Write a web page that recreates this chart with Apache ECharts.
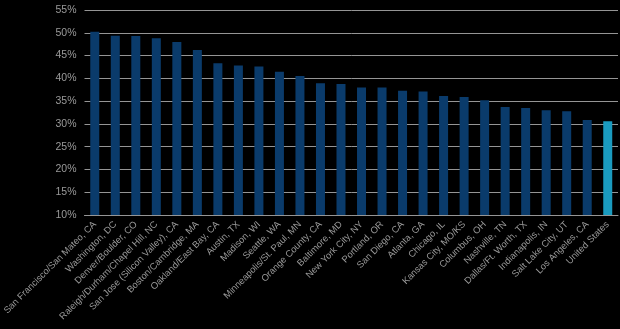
<!DOCTYPE html>
<html>
<head>
<meta charset="utf-8">
<script src="https://cdn.jsdelivr.net/npm/echarts@6/dist/echarts.min.js"></script>
<style>
  html, body { margin: 0; padding: 0; background: #000; }
  #chart { width: 620px; height: 329px; }
</style>
</head>
<body>
<div id="chart"></div>
<script>
// Metro areas, ordered by share (%)
const metros = [
  'San Francisco/San Mateo, CA', 'Washington, DC', 'Denver/Boulder, CO',
  'Raleigh/Durham/Chapel Hill, NC', 'San Jose (Silicon Valley), CA',
  'Boston/Cambridge, MA', 'Oakland/East Bay, CA', 'Austin, TX', 'Madison, WI',
  'Seattle, WA', 'Minneapolis/St. Paul, MN', 'Orange County, CA',
  'Baltimore, MD', 'New York City, NY', 'Portland, OR', 'San Diego, CA',
  'Atlanta, GA', 'Chicago, IL', 'Kansas City, MO/KS', 'Columbus, OH',
  'Nashville, TN', 'Dallas/Ft. Worth, TX', 'Indianapolis, IN',
  'Salt Lake City, UT', 'Los Angeles, CA', 'United States'
];
const shares = [
  50.2, 49.35, 49.3, 48.8, 48.0, 46.2, 43.3, 42.8, 42.6, 41.45, 40.5, 38.9,
  38.75, 38.0, 38.0, 37.3, 37.1, 36.1, 35.9, 35.2, 33.7, 33.5, 33.0, 32.8,
  30.85, 30.6
];
const yTicks = { min: 10, max: 55, step: 5 };

const metroColor = '#0a3b6b';
const nationColor = '#1a9bbf';

const chart = echarts.init(document.getElementById('chart'), null, { renderer: 'canvas' });
chart.setOption({
  backgroundColor: '#000',
  animation: false,
  grid: { left: 84.5, right: 2, top: 10, bottom: 114, outerBoundsMode: 'none', containLabel: false },
  xAxis: {
    type: 'category',
    data: metros,
    axisLine: { show: true, lineStyle: { color: '#959595', width: 1 } },
    axisTick: { show: false },
    axisLabel: {
      interval: 0,
      rotate: 45,
      color: '#9a9a9a',
      fontFamily: 'Liberation Sans, Arial, sans-serif',
      fontSize: 9.4,
      margin: 8
    }
  },
  yAxis: {
    type: 'value',
    min: yTicks.min,
    max: yTicks.max,
    interval: yTicks.step,
    axisLine: { show: false },
    axisTick: { show: false },
    splitLine: { lineStyle: { color: '#959595', width: 1 } },
    axisLabel: {
      formatter: '{value}%',
      color: '#9a9a9a',
      fontFamily: 'Liberation Sans, Arial, sans-serif',
      fontSize: 10.5,
      margin: 8
    }
  },
  series: [{
    type: 'bar',
    barWidth: 9,
    data: shares.map((v, i) => ({
      value: v,
      itemStyle: { color: i === shares.length - 1 ? nationColor : metroColor }
    }))
  }]
});
</script>
</body>
</html>
